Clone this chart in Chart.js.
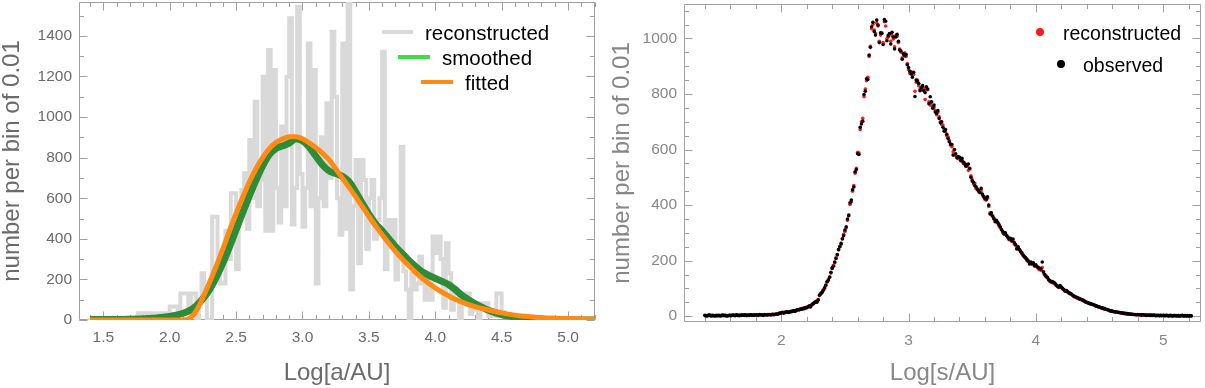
<!DOCTYPE html>
<html>
<head>
<meta charset="utf-8">
<script src="https://cdn.jsdelivr.net/npm/chart.js@4.4.1/dist/chart.umd.min.js"></script>
<style>
  html, body { margin: 0; padding: 0; background: #fff; }
  body { width: 1205px; height: 388px; position: relative; overflow: hidden; font-family: "Liberation Sans", Arial, sans-serif; }
  canvas { position: absolute; top: 0; }
  #leftChart { left: 0; }
  #rightChart { left: 605px; }
  .lg { position: absolute; white-space: nowrap; color: #000; line-height: 22px; }
  .left-lg { font-size: 20.5px; }
  .right-lg { font-size: 19.5px; }
  .bar { position: absolute; height: 4px; }
  .dot { position: absolute; width: 8px; height: 8px; border-radius: 50%; }
</style>
</head>
<body>
<canvas id="leftChart" width="600" height="388"></canvas>
<canvas id="rightChart" width="600" height="388"></canvas>

<!-- left legend -->
<div class="bar" style="left:382px; top:30px; width:31px; background:#d9d9d9;"></div>
<div class="lg left-lg" style="left:425px; top:22px;">reconstructed</div>
<div class="bar" style="left:398px; top:55px; width:32px; background:#3ee03e;"></div>
<div class="lg left-lg" style="left:442px; top:47px;">smoothed</div>
<div class="bar" style="left:421px; top:80px; width:32px; background:#ff8a14;"></div>
<div class="lg left-lg" style="left:465px; top:72px;">fitted</div>

<!-- right legend -->
<div class="dot" style="left:1036px; top:28px; background:#ff1a1a;"></div>
<div class="lg right-lg" style="left:1063px; top:22px;">reconstructed</div>
<div class="dot" style="left:1057px; top:60px; background:#000;"></div>
<div class="lg right-lg" style="left:1083px; top:54px;">observed</div>

<script>
// ---- left panel: semi-major axis distribution ----
const histStart = 1.38, histStep = 0.02;
const histCounts = [
  0, 0, 0, 0, 0, 0, 0, 0, 0, 0,
  0, 0, 0, 0, 0, 0, 0, 0, 0, 0,
  33, 33, 33, 0, 33, 33, 0, 33, 33, 33,
  0, 33, 66, 66, 66, 33, 131, 131, 131, 66,
  131, 131, 0, 100, 230, 100, 0, 0, 509, 509,
  280, 180, 180, 440, 300, 624, 624, 250, 580, 640,
  723, 450, 887, 600, 1076, 560, 690, 1199, 440, 1331,
  440, 1232, 650, 480, 953, 560, 1199, 1487, 470, 650,
  1544, 720, 460, 650, 1363, 560, 1232, 180, 600, 900,
  560, 1068, 700, 1421, 1100, 600, 420, 1363, 450, 1565,
  150, 560, 789, 280, 789, 690, 350, 600, 690, 400,
  493, 600, 1322, 250, 493, 360, 493, 200, 360, 854,
  240, 150, 10, 230, 150, 180, 312, 180, 100, 230,
  100, 411, 330, 411, 300, 60, 378, 230, 50, 131,
  131, 10, 131, 131, 131, 30, 50, 50, 0, 82,
  82, 82, 20, 40, 20, 131, 131, 40, 16, 16,
  16, 16, 0, 16, 16, 16, 0, 16, 16, 0,
  0, 0, 0, 0, 0, 0, 0, 0, 0, 0,
  0, 0, 0, 0, 0, 0, 0, 0, 0, 0,
  0, 0
];

const curveStart = 1.40, curveStep = 0.05;
const smoothed = [
  2, 2, 2, 3, 3, 3, 4, 5, 6, 8,
  10, 14, 18, 24, 33, 46, 70, 105, 150, 210,
  280, 360, 445, 530, 612, 690, 760, 815, 845, 858,
  872, 893, 883, 853, 808, 765, 735, 722, 708, 682,
  632, 575, 522, 474, 440, 400, 362, 328, 294, 264,
  238, 220, 205, 190, 175, 150, 122, 100, 80, 63,
  48, 36, 27, 20, 14, 10, 7, 5, 3, 2,
  1, 1, 1, 0, 0, 0, 0
];
const fitted = [
  0, 0, 0, 0, 0, 0, 0, 0, 0, 0,
  0, 0, 0, 0, 0, 8, 45, 110, 185, 265,
  350, 440, 525, 605, 680, 745, 800, 845, 875, 893,
  903, 903, 893, 873, 850, 822, 790, 745, 700, 655,
  608, 560, 512, 465, 420, 378, 338, 302, 268, 236,
  207, 181, 158, 137, 119, 102, 88, 76, 66, 57,
  49, 42, 35, 29, 24, 20, 17, 14, 12, 10,
  9, 8, 7, 6, 5, 5, 4
];

const leftXTicks = [1.5, 2.0, 2.5, 3.0, 3.5, 4.0, 4.5, 5.0];
const leftYTicks = [0, 200, 400, 600, 800, 1000, 1200, 1400];

// ---- right panel: projected separation distribution ----
const scatterStart = 1.40, scatterStep = 0.01;
const observed = [
  3, 1, 2, 4, 2, 1, 3, 2, 1, 2,
  2, 3, 1, 2, 4, 2, 3, 1, 2, 3,
  3, 2, 4, 3, 2, 5, 3, 2, 4, 3,
  4, 3, 5, 2, 4, 3, 5, 4, 3, 4,
  4, 5, 3, 6, 4, 5, 3, 6, 5, 4,
  5, 6, 4, 7, 5, 6, 8, 7, 9, 10,
  12, 14, 11, 13, 16, 15, 13, 17, 16, 18,
  19, 18, 21, 24, 22, 26, 25, 28, 27, 31,
  30, 34, 36, 33, 40, 45, 48, 52, 50, 58,
  76, 80, 86, 93, 102, 112, 125, 131, 140, 158,
  172, 180, 195, 208, 222, 240, 250, 262, 278, 290,
  310, 322, 350, 362, 408, 418, 455, 465, 520, 528,
  585, 582, 680, 692, 702, 798, 810, 855, 852, 940,
  968, 1042, 1058, 1025, 1012, 1066, 1048, 985, 1020, 1018,
  978, 1068, 1062, 992, 1010, 1018, 980, 1022, 1005, 962,
  1005, 1015, 990, 958, 955, 925, 945, 938, 942, 905,
  895, 882, 872, 860, 878, 791, 850, 845, 838, 812,
  822, 830, 812, 805, 826, 818, 765, 790, 772, 749,
  760, 735, 731, 740, 712, 696, 700, 680, 666, 672,
  655, 640, 628, 620, 618, 580, 600, 585, 570, 575,
  572, 560, 568, 555, 548, 540, 546, 548, 532, 500,
  487, 482, 470, 466, 458, 452, 445, 460, 440, 432,
  425, 421, 430, 400, 368, 372, 360, 352, 340, 345,
  338, 330, 322, 312, 305, 296, 300, 290, 285, 278,
  280, 272, 278, 265, 258, 242, 250, 240, 232, 228,
  220, 215, 210, 205, 198, 188, 195, 190, 192, 182,
  185, 178, 175, 172, 170, 195, 160, 150, 142, 140,
  132, 128, 123, 125, 122, 118, 112, 108, 104, 110,
  105, 100, 95, 90, 92, 88, 84, 82, 80, 75,
  72, 70, 68, 66, 63, 62, 60, 58, 55, 52,
  50, 48, 46, 45, 44, 42, 40, 38, 36, 34,
  33, 31, 30, 28, 27, 25, 24, 22, 20, 19,
  18, 17, 16, 15, 14, 14, 13, 12, 11, 10,
  10, 9, 9, 8, 8, 7, 7, 6, 6, 5,
  6, 5, 5, 4, 5, 4, 4, 3, 4, 3,
  4, 3, 3, 4, 2, 3, 3, 2, 3, 2,
  3, 2, 2, 3, 1, 2, 3, 1, 2, 2,
  2, 1, 2, 1, 2, 3, 1, 2, 1, 2,
  1, 2, 1
];
const reconstructed = [
  2, 2, 1, 3, 5, 2, 2, 1, 2, 3,
  1, 2, 2, 3, 2, 3, 2, 2, 1, 2,
  2, 3, 3, 2, 3, 4, 2, 3, 3, 4,
  3, 4, 4, 3, 3, 4, 4, 3, 5, 3,
  5, 4, 4, 5, 5, 4, 5, 5, 4, 6,
  6, 5, 6, 6, 7, 7, 7, 8, 10, 11,
  11, 13, 12, 15, 14, 16, 14, 16, 18, 17,
  20, 19, 22, 23, 24, 25, 27, 26, 29, 30,
  32, 33, 37, 38, 42, 44, 50, 50, 55, 60,
  74, 82, 85, 95, 100, 110, 122, 128, 142, 155,
  175, 183, 192, 210, 220, 238, 252, 258, 280, 295,
  305, 318, 345, 365, 402, 412, 450, 470, 515, 532,
  590, 588, 672, 700, 712, 790, 818, 848, 860, 935,
  972, 1035, 1050, 1030, 1018, 1055, 1045, 990, 1012, 1020,
  985, 1060, 1045, 1000, 1005, 1015, 990, 1010, 998, 970,
  1010, 1008, 985, 962, 950, 930, 940, 948, 935, 910,
  888, 875, 880, 868, 870, 810, 842, 850, 830, 818,
  815, 826, 820, 780, 818, 815, 772, 760, 770, 755,
  752, 740, 725, 735, 718, 700, 690, 688, 672, 665,
  650, 645, 632, 615, 610, 592, 598, 578, 575, 568,
  565, 565, 560, 550, 552, 545, 540, 525, 530, 505,
  492, 476, 478, 460, 455, 448, 450, 452, 436, 428,
  420, 418, 425, 395, 372, 365, 362, 350, 345, 340,
  335, 325, 318, 310, 300, 300, 295, 292, 282, 275,
  276, 270, 274, 260, 255, 245, 248, 238, 235, 225,
  218, 212, 208, 200, 200, 190, 192, 186, 188, 180,
  180, 176, 170, 168, 165, 175, 155, 148, 145, 138,
  130, 125, 125, 120, 120, 115, 110, 106, 105, 106,
  102, 98, 96, 92, 90, 86, 82, 80, 78, 74,
  70, 68, 66, 64, 62, 60, 58, 56, 54, 50,
  49, 47, 45, 44, 42, 41, 39, 37, 35, 33,
  32, 30, 29, 27, 26, 24, 23, 21, 20, 18,
  17, 16, 15, 15, 14, 13, 12, 11, 11, 10,
  9, 9, 8, 8, 7, 7, 6, 6, 5, 5,
  5, 5, 4, 4, 4, 4, 3, 3, 3, 3,
  3, 3, 3, 3, 2, 2, 2, 2, 2, 2,
  2, 2, 2, 2, 2, 1, 2, 1, 1, 2,
  1, 1, 2, 1, 1, 2, 1, 1, 1, 1,
  1, 1, 1
];

const rightXTicks = [2, 3, 4, 5];
const rightYTicks = [0, 200, 400, 600, 800, 1000];

const FONT = '"Liberation Sans", Arial, sans-serif';

function range(a, b, step) {
  const out = [];
  for (let v = a; v <= b + 1e-9; v += step) out.push(+v.toFixed(4));
  return out;
}
function toPoints(start, step, values) {
  return values.map((v, i) => ({ x: +(start + i * step).toFixed(4), y: v }));
}

// Mathematica-like frame: box round the plot area, inward ticks on all four sides
const framePlugin = {
  id: 'frame',
  beforeDatasetsDraw(chart, args, o) {
    const { ctx, chartArea: a, scales: { x, y } } = chart;
    const L = Math.round(a.left) + 0.5, R = Math.round(a.right) - 0.5;
    const T = Math.round(a.top) + 0.5, B = Math.round(a.bottom) - 0.5;
    ctx.save();
    ctx.strokeStyle = o.color;
    ctx.lineWidth = 1;
    ctx.beginPath();
    ctx.rect(L, T, R - L, B - T);
    const xt = (vals, len) => vals.forEach(v => {
      if (v < x.min || v > x.max) return;
      const px = Math.round(x.getPixelForValue(v)) + 0.5;
      ctx.moveTo(px, B); ctx.lineTo(px, B - len);
      ctx.moveTo(px, T); ctx.lineTo(px, T + len);
    });
    const yt = (vals, len) => vals.forEach(v => {
      if (v < y.min || v > y.max) return;
      const py = Math.round(y.getPixelForValue(v)) + 0.5;
      ctx.moveTo(L, py); ctx.lineTo(L + len, py);
      ctx.moveTo(R, py); ctx.lineTo(R - len, py);
    });
    xt(o.xMinor, 4.5); xt(o.xMajor, 8);
    yt(o.yMinor, 4.5); yt(o.yMajor, 8);
    ctx.stroke();
    ctx.restore();
  }
};

function axis(opts) {
  return {
    type: 'linear',
    min: opts.min, max: opts.max,
    grid: { display: false, drawTicks: false },
    border: { display: false },
    afterBuildTicks: s => { s.ticks = opts.ticks.map(v => ({ value: v })); },
    afterFit: s => {
      if (opts.width) s.width = opts.width;
      if (opts.height) s.height = opts.height;
      s.paddingTop = s.paddingBottom = s.paddingLeft = s.paddingRight = 0;
    },
    ticks: {
      autoSkip: false, maxRotation: 0, padding: opts.pad,
      color: opts.color, font: { family: FONT, size: 15.5 },
      callback: opts.fmt
    },
    title: {
      display: true, text: opts.title, color: opts.color,
      font: { family: FONT, size: 24, lineHeight: 1 },
      padding: opts.titlePad
    }
  };
}

const histPts = toPoints(histStart, histStep, histCounts);
histPts.push({ x: +(histStart + histCounts.length * histStep).toFixed(4), y: histCounts[histCounts.length - 1] });

new Chart(document.getElementById('leftChart'), {
  type: 'line',
  data: {
    datasets: [
      { label: 'fitted', data: toPoints(curveStart, curveStep, fitted), borderColor: '#ff8a14', borderWidth: 5,
        pointRadius: 0, cubicInterpolationMode: 'monotone', order: 1 },
      { label: 'smoothed', data: toPoints(curveStart, curveStep, smoothed), borderColor: '#2e8b36', borderWidth: 7,
        pointRadius: 0, cubicInterpolationMode: 'monotone', order: 2 },
      { label: 'reconstructed', data: histPts, stepped: 'after', borderColor: '#d9d9d9', borderWidth: 4,
        pointRadius: 0, order: 3 }
    ]
  },
  options: {
    responsive: false, animation: false, devicePixelRatio: 1,
    layout: { padding: { top: 2, right: 5, left: 0, bottom: 0 } },
    plugins: {
      legend: { display: false }, tooltip: { enabled: false },
      frame: { color: '#a0a0a0', xMajor: leftXTicks, xMinor: range(1.4, 5.2, 0.1),
               yMajor: leftYTicks, yMinor: range(0, 1500, 100) }
    },
    scales: {
      x: axis({ min: 1.317, max: 5.203, ticks: leftXTicks, height: 68, pad: 8, color: '#6b6b6b',
                fmt: v => v.toFixed(1), title: 'Log[a/AU]', titlePad: { bottom: 3 } }),
      y: axis({ min: 0, max: 1567, ticks: leftYTicks, width: 79, pad: 7, color: '#6b6b6b',
                fmt: v => String(v), title: 'number per bin of 0.01', titlePad: { top: 0 } })
    }
  },
  plugins: [framePlugin]
});

new Chart(document.getElementById('rightChart'), {
  type: 'scatter',
  data: {
    datasets: [
      { label: 'observed', data: toPoints(scatterStart, scatterStep, observed), backgroundColor: '#000',
        pointRadius: 1.8, borderWidth: 0, order: 1 },
      { label: 'reconstructed', data: toPoints(scatterStart, scatterStep, reconstructed), backgroundColor: '#ff1a1a',
        pointRadius: 1.8, borderWidth: 0, order: 2 }
    ]
  },
  options: {
    responsive: false, animation: false, devicePixelRatio: 1,
    layout: { padding: { top: 2, right: 2, left: 0, bottom: 0 } },
    plugins: {
      legend: { display: false }, tooltip: { enabled: false },
      frame: { color: '#a0a0a0', xMajor: rightXTicks, xMinor: range(1.4, 5.2, 0.2),
               yMajor: rightYTicks, yMinor: range(0, 1100, 50) }
    },
    scales: {
      x: axis({ min: 1.236, max: 5.297, ticks: rightXTicks, height: 66, pad: 9, color: '#888',
                fmt: v => String(v), title: 'Log[s/AU]', titlePad: { bottom: 3 } }),
      y: axis({ min: -21, max: 1124, ticks: rightYTicks, width: 79, pad: 7, color: '#888',
                fmt: v => String(v), title: 'number per bin of 0.01', titlePad: { top: 5 } })
    }
  },
  plugins: [framePlugin]
});
</script>
</body>
</html>
